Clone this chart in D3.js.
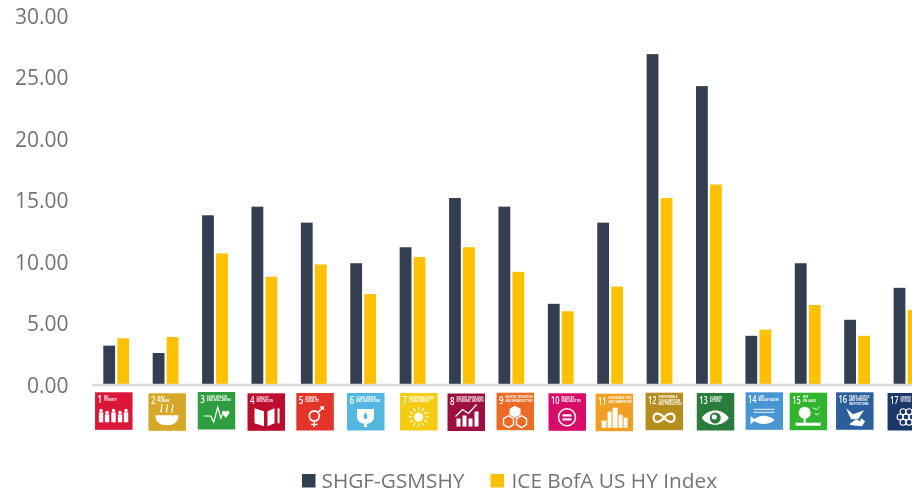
<!DOCTYPE html>
<html>
<head>
<meta charset="utf-8">
<title>SDG exposure</title>
<style>
html, body { margin: 0; padding: 0; background: #fff; overflow: hidden; }
svg { display: block; }
text { font-family: "Open Sans", sans-serif; }
.tick-label { font-size: 21px; fill: #737373; }
.legend-label { font-size: 20.8px; fill: #737373; }
.tile-num { font-size: 10px; font-weight: 600; fill: #fff; }
.tile-name { font-size: 2.8px; font-weight: 700; fill: #fff; }
</style>
</head>
<body>
<svg id="chart" width="912" height="495"></svg>
<script src="https://d3js.org/d3.v7.min.js"></script>
<script>
var goals = d3.range(1, 18);
var goalNames = [
  "NO|POVERTY", "ZERO|HUNGER", "GOOD HEALTH|AND WELL-BEING", "QUALITY|EDUCATION",
  "GENDER|EQUALITY", "CLEAN WATER|AND SANITATION", "AFFORDABLE AND|CLEAN ENERGY",
  "DECENT WORK AND|ECONOMIC GROWTH", "INDUSTRY, INNOVATION|AND INFRASTRUCTURE",
  "REDUCED|INEQUALITIES", "SUSTAINABLE CITIES|AND COMMUNITIES",
  "RESPONSIBLE|CONSUMPTION|AND PRODUCTION", "CLIMATE|ACTION", "LIFE|BELOW WATER",
  "LIFE|ON LAND", "PEACE, JUSTICE|AND STRONG|INSTITUTIONS", "PARTNERSHIPS|FOR THE GOALS"
];
var goalColors = [
  "#dc1537", "#d5a82c", "#2f9e3f", "#bd0a2d", "#e4352a", "#53b7e0", "#f3cc0e", "#9c0f3f",
  "#ea6b25", "#d8096a", "#efa020", "#b58d1f", "#2b7b3c", "#4a95d2", "#33b52f", "#2c5f9b", "#1e3768"
];
var fundValues = [3.2, 2.6, 13.8, 14.5, 13.2, 9.9, 11.2, 15.2, 14.5, 6.6, 13.2, 26.9, 24.3, 4.0, 9.9, 5.3, 7.9];
var indexValues = [3.8, 3.9, 10.7, 8.8, 9.8, 7.4, 10.4, 11.2, 9.2, 6.0, 8.0, 15.2, 16.3, 4.5, 6.5, 4.0, 6.1];
var seriesNames = ["SHGF-GSMSHY", "ICE BofA US HY Index"];
var seriesColors = ["#333f50", "#ffc000"];
var yTicks = [0, 5, 10, 15, 20, 25, 30];

var svg = d3.select("#chart");

var x = d3.scaleBand().domain(goals).range([91.3, 931]).paddingInner(0).paddingOuter(0);
var y = d3.scaleLinear().domain([0, 30]).range([385, 16]);
var barW = 11.8;

// tiles were pasted by hand in the original, so they sit a little off the grid
var tileNudge = [-2.2, 1.8, 1.7, 2.1, 1.5, 2.8, 6.5, 4.5, 4.1, 6.7, 4.4, 5, 6.8, 6.2, 0.9, -2.1, 0];
var tileTop = [392.3, 393.3, 392, 393.3, 393, 393, 393, 393.5, 392.7, 393.3, 393.7, 392.7, 393, 392.3, 392.7, 392.3, 393];

var defs = svg.append("defs");
defs.append("filter").attr("id", "soft").append("feGaussianBlur").attr("stdDeviation", 0.5);
defs.append("filter").attr("id", "softer").append("feGaussianBlur").attr("stdDeviation", 0.3);

svg.selectAll(".tick-label")
  .data(yTicks)
  .enter().append("text")
  .attr("class", "tick-label")
  .attr("x", 68.5)
  .attr("y", function (d) { return y(d) + 7.5; })
  .attr("text-anchor", "end")
  .attr("filter", "url(#softer)")
  .text(function (d) { return d3.format(".2f")(d); });

svg.selectAll(".bar-a")
  .data(fundValues)
  .enter().append("rect")
  .attr("class", "bar-a")
  .attr("x", function (d, i) { return x(goals[i]) + 12; })
  .attr("y", function (d) { return y(d); })
  .attr("width", barW)
  .attr("height", function (d) { return y(0) - y(d); })
  .attr("fill", seriesColors[0]);

svg.selectAll(".bar-b")
  .data(indexValues)
  .enter().append("rect")
  .attr("class", "bar-b")
  .attr("x", function (d, i) { return x(goals[i]) + 26; })
  .attr("y", function (d) { return y(d); })
  .attr("width", barW)
  .attr("height", function (d) { return y(0) - y(d); })
  .attr("fill", seriesColors[1]);

svg.append("line")
  .attr("x1", 92).attr("x2", 912)
  .attr("y1", y(0)).attr("y2", y(0))
  .attr("stroke", "#d9d9d9").attr("stroke-width", 2.4);

// white pictograms, drawn in a 37 x 37 tile
var glyphs = {
  1: function (g) {
    [6, 12, 18.5, 25, 31].forEach(function (cx, i) {
      var h = i % 2 ? 8 : 10;
      g.append("circle").attr("cx", cx).attr("cy", 30 - h - 1.8).attr("r", 1.7);
      g.append("rect").attr("x", cx - 2.2).attr("y", 30 - h).attr("width", 4.4).attr("height", h);
    });
  },
  2: function (g) {
    g.append("path").attr("d", "M7,22H30C30,29 25,32 18.5,32S7,29 7,22Z");
    g.append("path").attr("d", "M13,19c-2,-3 2,-4 0,-8M18.5,19c-2,-3 2,-4 0,-8M24,19c-2,-3 2,-4 0,-8")
      .attr("fill", "none").attr("stroke", "#fff").attr("stroke-width", 1.2);
  },
  3: function (g) {
    g.append("path").attr("d", "M6,24H13L16,30L20,15L23,26L25,22")
      .attr("fill", "none").attr("stroke", "#fff").attr("stroke-width", 1.2);
    g.append("path").attr("d", "M28,26L24.5,21.5C23.5,19 26.5,17.5 28,20C29.5,17.5 32.500,19 31.5,21.5Z");
  },
  4: function (g) {
    g.append("path").attr("d", "M7,15L16.500,18V33L7,30ZM20,18L27,15V30L20,33Z");
    g.append("rect").attr("x", 30).attr("y", 15).attr("width", 2).attr("height", 15);
  },
  5: function (g) {
    g.append("circle").attr("cx", 18).attr("cy", 23).attr("r", 5)
      .attr("fill", "none").attr("stroke", "#fff").attr("stroke-width", 1.8);
    g.append("path").attr("d", "M18,28V34M15,31.500H21M22,19L27,14M24,14H27V17")
      .attr("fill", "none").attr("stroke", "#fff").attr("stroke-width", 1.4);
  },
  6: function (g) {
    g.append("path").attr("d", "M10,16H27V24C27,29 22,30 20,31V34H17V31C15,30 10,29 10,24Z");
    g.append("path").attr("d", "M18.500,19C16,23 16,26 18.500,26S21,23 18.500,19Z").attr("fill", "#53b7e0");
  },
  7: function (g) {
    g.append("circle").attr("cx", 18.5).attr("cy", 24).attr("r", 4.5);
    d3.range(12).forEach(function (i) {
      var a = i * Math.PI / 6;
      g.append("line")
        .attr("x1", 18.5 + 6.5 * Math.cos(a)).attr("y1", 24 + 6.5 * Math.sin(a))
        .attr("x2", 18.5 + 10 * Math.cos(a)).attr("y2", 24 + 10 * Math.sin(a))
        .attr("stroke", "#fff").attr("stroke-width", 1.1);
    });
  },
  8: function (g) {
    [[9, 25], [15, 22], [21, 25], [27, 18]].forEach(function (b) {
      g.append("rect").attr("x", b[0]).attr("y", b[1]).attr("width", 4).attr("height", 33 - b[1]);
    });
    g.append("path").attr("d", "M8,23L15,16L21,20L29,11")
      .attr("fill", "none").attr("stroke", "#fff").attr("stroke-width", 1.3);
  },
  9: function (g) {
    g.append("path").attr("d", "M18.500,13L24,16V22L18.500,25L13,22V16Z");
    g.append("path").attr("d", "M12,23L17,26V32L12,35L7,32V26ZM25,23L30,26V32L25,35L20,32V26Z")
      .attr("fill", "none").attr("stroke", "#fff").attr("stroke-width", 1.4);
  },
  10: function (g) {
    g.append("circle").attr("cx", 18.5).attr("cy", 24).attr("r", 8.5)
      .attr("fill", "none").attr("stroke", "#fff").attr("stroke-width", 1.5);
    g.append("rect").attr("x", 14).attr("y", 21).attr("width", 9).attr("height", 2.2);
    g.append("rect").attr("x", 14).attr("y", 25).attr("width", 9).attr("height", 2.2);
  },
  11: function (g) {
    [[6, 27, 5], [12, 18, 4], [17, 14, 5], [23, 21, 4], [28, 24, 4]].forEach(function (b) {
      g.append("rect").attr("x", b[0]).attr("y", b[1]).attr("width", b[2]).attr("height", 34 - b[1]);
    });
  },
  12: function (g) {
    g.append("path").attr("d", "M18.500,25C15,20 8,19 8,25S15,30 18.500,25S29,19 29,25S22,30 18.500,25Z")
      .attr("fill", "none").attr("stroke", "#fff").attr("stroke-width", 2.2);
  },
  13: function (g) {
    g.append("path").attr("d", "M5,25C11,15 26,15 32,25C26,34 11,34 5,25Z");
    g.append("circle").attr("cx", 18.5).attr("cy", 25).attr("r", 5.5).attr("fill", goalColors[12]);
    g.append("circle").attr("cx", 17.5).attr("cy", 24).attr("r", 2.5);
  },
  14: function (g) {
    g.append("path").attr("d", "M8,17H29M8,20H29").attr("stroke", "#fff").attr("stroke-width", 0.9).attr("fill", "none");
    g.append("path").attr("d", "M8,28C13,22 23,22 29,28C23,33 13,33 8,28Z");
    g.append("path").attr("d", "M10,28L5,24V32Z");
  },
  15: function (g) {
    g.append("circle").attr("cx", 15).attr("cy", 20).attr("r", 6);
    g.append("rect").attr("x", 14).attr("y", 24).attr("width", 2).attr("height", 7);
    g.append("rect").attr("x", 6).attr("y", 30).attr("width", 25).attr("height", 3);
    g.append("path").attr("d", "M23,15L27,17L30,14M25,21L28,22L30,20")
      .attr("fill", "none").attr("stroke", "#fff").attr("stroke-width", 0.9);
  },
  16: function (g) {
    g.append("path").attr("d", "M10,16L17,22L28,18L22,27L15,27Z");
    g.append("path").attr("d", "M13,32L20,27L24,29L25,26L29,29L26,34L16,33Z");
  },
  17: function (g) {
    g.append("circle").attr("cx", 18.5).attr("cy", 24).attr("r", 3)
      .attr("fill", "none").attr("stroke", "#fff").attr("stroke-width", 1.1);
    d3.range(6).forEach(function (i) {
      var a = i * Math.PI / 3;
      g.append("circle")
        .attr("cx", 18.5 + 6 * Math.cos(a)).attr("cy", 24 + 6 * Math.sin(a)).attr("r", 3)
        .attr("fill", "none").attr("stroke", "#fff").attr("stroke-width", 1.1);
    });
  }
};

var tileSize = 37.5;
var tile = svg.selectAll(".tile")
  .data(goals)
  .enter().append("g")
  .attr("class", "tile")
  .attr("filter", "url(#soft)")
  .attr("transform", function (d, i) {
    return "translate(" + (x(d) + x.bandwidth() / 2 - tileSize / 2 + tileNudge[i]) + "," + tileTop[i] + ")";
  });

tile.append("rect")
  .attr("width", tileSize)
  .attr("height", tileSize)
  .attr("fill", function (d, i) { return goalColors[i]; });

// the tile numbers are condensed, so pull them in horizontally
tile.append("text")
  .attr("class", "tile-num")
  .attr("x", 2.5)
  .attr("y", 11)
  .attr("textLength", function (d) { return d > 9 ? 8.5 : 4.6; })
  .attr("lengthAdjust", "spacingAndGlyphs")
  .text(function (d) { return d; });

tile.each(function (d, i) {
  var g = d3.select(this);
  var left = d > 9 ? 13 : 9;
  var tileX = x(d) + x.bandwidth() / 2 - tileSize / 2 + tileNudge[i];
  var room = Math.min(tileSize - left - 1.5, 911 - tileX - left);
  goalNames[i].split("|").forEach(function (l, k) {
    var t = g.append("text").attr("class", "tile-name")
      .attr("x", left).attr("y", 5.5 + k * 3.4)
      .text(l);
    if (t.node().getComputedTextLength() > room) {
      t.attr("textLength", room).attr("lengthAdjust", "spacingAndGlyphs");
    }
  });
  glyphs[d](g.append("g").attr("fill", "#fff"));
});

var legendItems = [
  { key: 0, box: 302, label: 321.5 },
  { key: 1, box: 490.5, label: 511.5 }
];
svg.selectAll(".legend-box")
  .data(legendItems)
  .enter().append("rect")
  .attr("class", "legend-box")
  .attr("x", function (d) { return d.box; })
  .attr("y", 474)
  .attr("width", 13.5)
  .attr("height", 13.5)
  .attr("fill", function (d) { return seriesColors[d.key]; });
svg.selectAll(".legend-label")
  .data(legendItems)
  .enter().append("text")
  .attr("class", "legend-label")
  .attr("x", function (d) { return d.label; })
  .attr("y", 487.5)
  .attr("filter", "url(#softer)")
  .text(function (d) { return seriesNames[d.key]; });
</script>
</body>
</html>
